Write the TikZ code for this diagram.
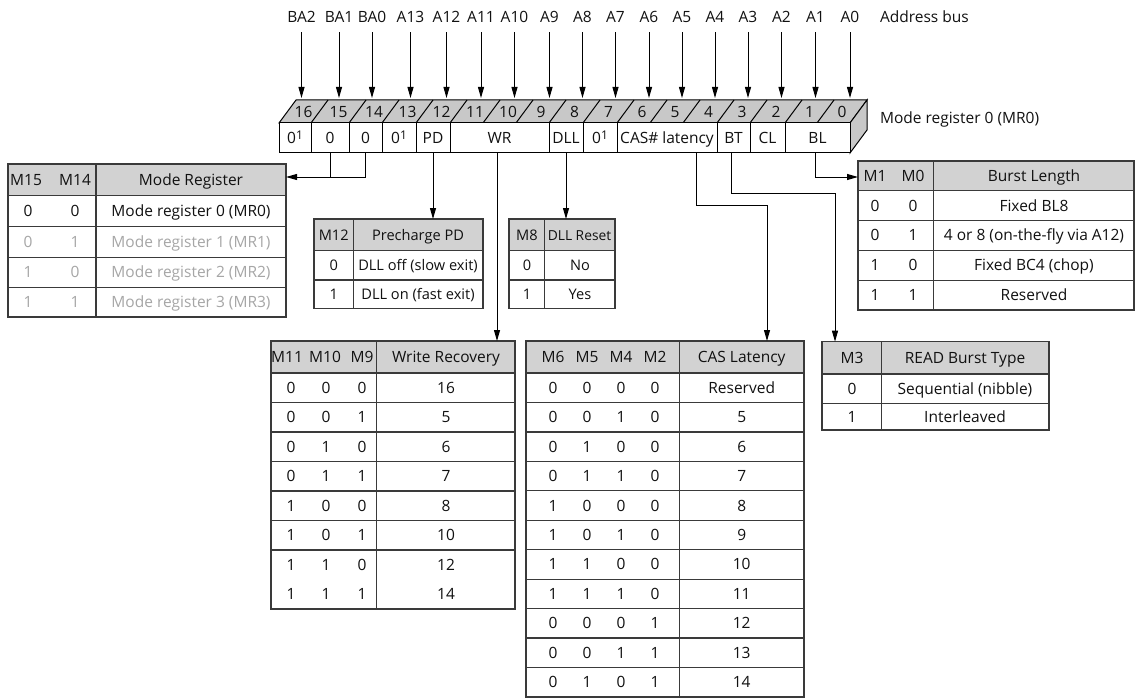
\documentclass[tikz,border=0pt]{standalone}
\usepackage{fontspec}
\setmainfont{Open Sans}
\usetikzlibrary{arrows.meta}
\definecolor{tline}{HTML}{3A3A3A}
\definecolor{hdrgray}{HTML}{D2D2D2}
\definecolor{facegray}{HTML}{C8C8C8}
\definecolor{dimtxt}{HTML}{A6A6A6}
\definecolor{ink}{HTML}{111111}
\newcommand\fs{\fontsize{15.5}{18}\selectfont}
\newcommand\fsn{\fontsize{14.6}{18}\selectfont}
\newcommand\fsm{\fontsize{13.8}{18}\selectfont}
\newcommand\zs{0\raisebox{4pt}{\fontsize{12}{12}\selectfont 1}}
\begin{document}
\begin{tikzpicture}[x=1pt,y=-1pt,
  tx/.style={inner sep=0pt, outer sep=0pt, font=\fs, text=ink, text height=11pt, text depth=0pt},
  txn/.style={tx, font=\fsn},
  tab/.style={draw=tline, line width=1.2pt, inner sep=0pt, outer sep=0pt, anchor=north west, fill=white,
    path picture={\fill[hdrgray] (path picture bounding box.north west) rectangle ([yshift=-#1]path picture bounding box.north east);}},
  tl/.style={draw=tline, line width=1.2pt},
  cell/.style={draw=black, fill=white, line width=1pt, minimum height=30pt, inner sep=0pt, outer sep=0pt, font=\fs, text=ink, text height=11pt, text depth=0pt},
  conn/.style={draw=black, line width=1pt},
  arr/.style={conn, -{Triangle[length=11pt,width=6pt]}},
]
\useasboundingbox (0,0) rectangle (1135,698);

% ---------- register ----------
\fill[facegray,draw=black,line width=1pt] (279,123) -- (296,100) -- (867,100) -- (850,123) -- cycle;
\fill[facegray,draw=black,line width=1pt] (850,123) -- (867,100) -- (867,130) -- (850,153) -- cycle;
\foreach \b in {311,349,382,416,450,483,516,549,583,617,650,683,717,750,785,817}
  \draw[black,line width=1pt] (\b,123) -- ++(17,-23);
\foreach \n/\x in {16/303.5,15/338.5,14/374,13/407.5,12/441.5,11/475,10/508,9/541,8/574.5,7/608.5,6/642,5/675,4/708.5,3/742,2/776,1/809.5,0/842}
  \node[tx] (bit\n) at (\x,112) {\n};

\node[cell, minimum width=32pt] (c16) at (295,138) {\zs};
\node[cell, minimum width=38pt] (c15) at (330,138) {0};
\node[cell, minimum width=33pt] (c14) at (365.5,138) {0};
\node[cell, minimum width=34pt] (c13) at (399,138) {\zs};
\node[cell, minimum width=34pt] (pd) at (433,138) {PD};
\node[cell, minimum width=99pt] (wr) at (499.5,138) {WR};
\node[cell, minimum width=34pt] (dll) at (566,138) {DLL};
\node[cell, minimum width=34pt] (c7) at (600,138) {\zs};
\node[cell, minimum width=100pt] (cas) at (667,138) {CAS\# latency};
\node[cell, minimum width=33pt] (bt) at (733.5,138) {BT};
\node[cell, minimum width=35pt] (cl) at (767.5,138) {CL};
\node[cell, minimum width=65pt] (bl) at (817.5,138) {BL};

\node[tx, anchor=west] (mr0lbl) at (880,118) {Mode register 0 (MR0)};

% ---------- address bus ----------
\coordinate (regtop) at (0,98);
\foreach \l/\x in {BA2/301.5,BA1/339,BA0/372,A13/410.5,A12/446.5,A11/481,A10/514.5,A9/549.5,A8/582.5,A7/615.5,A6/649,A5/682,A4/715,A3/748,A2/781.5,A1/815.5,A0/850}{
  \node[tx] (ab\l) at (\x,17) {\l};
  \draw[arr] ([yshift=-10pt]ab\l.south) -- (ab\l.south |- regtop);
}
\node[tx, anchor=west] (ablbl) at (880,17) {Address bus};

% ---------- Mode Register table ----------
\node[tab=31.7pt, minimum width=278pt, minimum height=153pt] (mrtab) at (8,164) {};
\draw[tl] ([xshift=88pt]mrtab.north west) -- ([xshift=88pt]mrtab.south west);
\foreach \o in {31.7,62.7,93.3,123.3}
  \draw[tl] ([yshift=-\o pt]mrtab.north west) -- ([yshift=-\o pt]mrtab.north east);
\node[tx] (mrh1) at (26,180) {M15};
\node[tx] (mrh2) at (75,180) {M14};
\node[tx] (mrh3) at (191,180) {Mode Register};
\foreach \a/\b/\c/\y/\col [count=\i] in {0/0/0/211/ink,0/1/1/242/dimtxt,1/0/2/272.3/dimtxt,1/1/3/302/dimtxt}{
  \node[tx, text=\col] (mr\i a) at (28,\y) {\a};
  \node[tx, text=\col] (mr\i b) at (75,\y) {\b};
  \node[tx, text=\col] (mr\i c) at (191,\y) {Mode register \c{} (MR\c)};
}

% ---------- Precharge PD table ----------
\node[tab=31.7pt, minimum width=169pt, minimum height=89.3pt] (pctab) at (314,219) {};
\draw[tl] ([xshift=39.3pt]pctab.north west) -- ([xshift=39.3pt]pctab.south west);
\draw[tl] ([yshift=-31.7pt]pctab.north west) -- ([yshift=-31.7pt]pctab.north east);
\draw[tl] ([yshift=-61pt]pctab.north west) -- ([yshift=-61pt]pctab.north east);
\node[txn] (pch1) at (333.7,235) {M12};
\node[txn] (pch2) at (418,235) {Precharge PD};
\node[txn] (pc1a) at (333.7,265.3) {0};
\node[txn] (pc1b) at (418,265.3) {DLL off (slow exit)};
\node[txn] (pc2a) at (333.7,294) {1};
\node[txn] (pc2b) at (418,294) {DLL on (fast exit)};

% ---------- DLL Reset table ----------
\node[tab=31.7pt, minimum width=106pt, minimum height=89.3pt] (dlltab) at (509,219) {};
\draw[tl] ([xshift=35.3pt]dlltab.north west) -- ([xshift=35.3pt]dlltab.south west);
\draw[tl] ([yshift=-31.7pt]dlltab.north west) -- ([yshift=-31.7pt]dlltab.north east);
\draw[tl] ([yshift=-61pt]dlltab.north west) -- ([yshift=-61pt]dlltab.north east);
\node[txn] (dlh1) at (527,235) {M8};
\node[txn, font=\fsm] (dlh2) at (579.5,235) {DLL Reset};
\node[txn] (dl1a) at (527,265.3) {0};
\node[txn] (dl1b) at (580,265.3) {No};
\node[txn] (dl2a) at (527,294) {1};
\node[txn] (dl2b) at (580,294) {Yes};

% ---------- Write Recovery table ----------
\node[tab=32pt, minimum width=244pt, minimum height=268pt] (wrtab) at (271,341) {};
\draw[tl] ([xshift=105.7pt]wrtab.north west) -- ([xshift=105.7pt]wrtab.south west);
\foreach \k in {0,...,6}
  \draw[tl] ([yshift={-(32+29.5*\k)*1pt}]wrtab.north west) -- ([yshift={-(32+29.5*\k)*1pt}]wrtab.north east);
\node[tx] (wrh1) at (287,357) {M11};
\node[tx] (wrh2) at (325,357) {M10};
\node[tx] (wrh3) at (362,357) {M9};
\node[tx] (wrh4) at (446,357) {Write Recovery};
\foreach \a/\b/\c/\v [count=\i] in {0/0/0/16,0/0/1/5,0/1/0/6,0/1/1/7,1/0/0/8,1/0/1/10,1/1/0/12,1/1/1/14}{
  \node[tx] (wr\i a) at (291,{373+14.75+29.5*(\i-1)}) {\a};
  \node[tx] (wr\i b) at (326,{373+14.75+29.5*(\i-1)}) {\b};
  \node[tx] (wr\i c) at (362,{373+14.75+29.5*(\i-1)}) {\c};
  \node[tx] (wr\i d) at (446,{373+14.75+29.5*(\i-1)}) {\v};
}

% ---------- CAS Latency table ----------
\node[tab=32pt, minimum width=278pt, minimum height=356pt] (castab) at (526,341) {};
\draw[tl] ([xshift=153.3pt]castab.north west) -- ([xshift=153.3pt]castab.south west);
\foreach \k in {0,...,10}
  \draw[tl] ([yshift={-(32+29.45*\k)*1pt}]castab.north west) -- ([yshift={-(32+29.45*\k)*1pt}]castab.north east);
\node[tx] (cah1) at (553,357) {M6};
\node[tx] (cah2) at (587,357) {M5};
\node[tx] (cah3) at (621,357) {M4};
\node[tx] (cah4) at (655,357) {M2};
\node[tx] (cah5) at (741.7,357) {CAS Latency};
\foreach \a/\b/\c/\d/\v [count=\i] in {0/0/0/0/Reserved,0/0/1/0/5,0/1/0/0/6,0/1/1/0/7,1/0/0/0/8,1/0/1/0/9,1/1/0/0/10,1/1/1/0/11,0/0/0/1/12,0/0/1/1/13,0/1/0/1/14}{
  \node[tx] (ca\i a) at (553,{373+14.7+29.45*(\i-1)}) {\a};
  \node[tx] (ca\i b) at (587,{373+14.7+29.45*(\i-1)}) {\b};
  \node[tx] (ca\i c) at (621,{373+14.7+29.45*(\i-1)}) {\c};
  \node[tx] (ca\i d) at (655,{373+14.7+29.45*(\i-1)}) {\d};
  \node[tx] (ca\i e) at (741.7,{373+14.7+29.45*(\i-1)}) {\v};
}

% ---------- Burst Length table ----------
\node[tab=29.7pt, minimum width=276pt, minimum height=149pt] (bltab) at (858,161) {};
\draw[tl] ([xshift=75.3pt]bltab.north west) -- ([xshift=75.3pt]bltab.south west);
\foreach \o in {29.7,59.5,89.3,119.1}
  \draw[tl] ([yshift=-\o pt]bltab.north west) -- ([yshift=-\o pt]bltab.north east);
\node[tx] (blh1) at (875,176) {M1};
\node[tx] (blh2) at (913,176) {M0};
\node[tx] (blh3) at (1034,176) {Burst Length};
\foreach \a/\b/\v [count=\i] in {0/0/Fixed BL8,0/1/4 or 8 (on-the-fly via A12),1/0/Fixed BC4 (chop),1/1/Reserved}{
  \node[tx] (bl\i a) at (875,{190.7+14.9+29.8*(\i-1)}) {\a};
  \node[tx] (bl\i b) at (913,{190.7+14.9+29.8*(\i-1)}) {\b};
  \node[tx] (bl\i c) at (1034,{190.7+14.9+29.8*(\i-1)}) {\v};
}

% ---------- READ Burst Type table ----------
\node[tab=32.3pt, minimum width=227pt, minimum height=88.3pt] (rbtab) at (822,341.7) {};
\draw[tl] ([xshift=59.7pt]rbtab.north west) -- ([xshift=59.7pt]rbtab.south west);
\draw[tl] ([yshift=-32.3pt]rbtab.north west) -- ([yshift=-32.3pt]rbtab.north east);
\draw[tl] ([yshift=-61.6pt]rbtab.north west) -- ([yshift=-61.6pt]rbtab.north east);
\node[tx] (rbh1) at (852,358) {M3};
\node[tx] (rbh2) at (965,358) {READ Burst Type};
\node[tx] (rb1a) at (852,388.7) {0};
\node[tx] (rb1b) at (965,388.7) {Sequential (nibble)};
\node[tx] (rb2a) at (852,416.7) {1};
\node[tx] (rb2b) at (965,416.7) {Interleaved};

% ---------- connectors ----------
\coordinate (mrin) at ([yshift=-13pt]mrtab.north east);
\draw[arr] (c14.south) |- (mrin);
\draw[conn] (c15.south) -- (c15.south |- mrin);

\draw[arr] (pd.south) -- (pd.south |- pctab.north);
\draw[arr] ([xshift=-2.5pt]wr.south) -- ([xshift=-2.5pt]wr.south |- wrtab.north);
\draw[arr] (dll.south) -- (dll.south |- dlltab.north);

\coordinate (casout) at ([xshift=29pt]cas.south);
\coordinate (caslvl) at (0,205);
\coordinate (casin) at ([xshift=-37pt]castab.north east);
\draw[arr] (casout) -- (casout |- caslvl) -| (casin);

\coordinate (btlvl) at (0,193);
\coordinate (rbin) at ([xshift=13pt]rbtab.north west);
\draw[arr] ([xshift=-2.5pt]bt.south) -- ([xshift=-2.5pt]bt.south |- btlvl) -| (rbin);

\coordinate (blin) at ([yshift=-16pt]bltab.north west);
\draw[arr] ([xshift=-2.5pt]bl.south) |- (blin);
\end{tikzpicture}
\end{document}
